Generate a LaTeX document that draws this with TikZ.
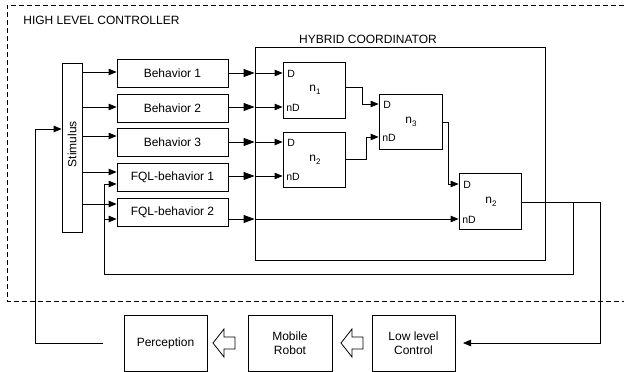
\documentclass[tikz,border=0pt]{standalone}
\usepackage{fontspec}
\setmainfont{Liberation Sans}
\usetikzlibrary{arrows.meta}
\newcommand{\lowsub}[1]{\raisebox{-3.5pt}{\fontsize{8}{9}\selectfont #1}}
\begin{document}
\begin{tikzpicture}[x=1pt,y=-1pt,
  every path/.style={line width=0.8pt},
  box/.style={draw, rectangle, inner sep=0pt, font=\fontsize{12}{14}\selectfont, align=center},
  sarrow/.style={-{Triangle[length=8pt,width=6.5pt]}},
  barrow/.style={-{Triangle[length=11pt,width=8pt]}},
  lbl/.style={font=\fontsize{10.5}{12}\selectfont, inner sep=0pt, anchor=west},
  nlbl/.style={font=\fontsize{12}{14}\selectfont, inner sep=0pt},
  ttl/.style={font=\fontsize{12}{14}\selectfont, inner sep=0pt},
  hollow/.style={draw, line width=0.8pt, fill=white}
]
\useasboundingbox (0,0) rectangle (624,372);

% dashed frame (open on the right)
\draw[dash pattern=on 5pt off 3pt] (624,5) -- (7,5) -- (7,301) -- (624,301);
\node[ttl, anchor=west] (hlc) at (23,20) {HIGH LEVEL CONTROLLER};

% hybrid coordinator
\node[box, minimum width=290pt, minimum height=213pt] (hyb) at (400,153.5) {};
\node[ttl] (hct) at (368,39) {HYBRID COORDINATOR};

% stimulus
\node[box, minimum width=20pt, minimum height=169pt] (stim) at (72,147.5) {};
\node[ttl, rotate=90] (stimt) at (72,144) {Stimulus};

% behaviours
\node[box, minimum width=111pt, minimum height=28pt] (b1) at (172.5,73) {Behavior 1};
\node[box, minimum width=111pt, minimum height=28pt] (b2) at (172.5,108) {Behavior 2};
\node[box, minimum width=111pt, minimum height=28pt] (b3) at (172.5,142) {Behavior 3};
\node[box, minimum width=111pt, minimum height=28pt] (f1) at (172.5,177) {FQL-behavior 1};
\node[box, minimum width=111pt, minimum height=28pt] (f2) at (172.5,212) {FQL-behavior 2};

% coordinator nodes
\node[box, minimum width=62pt, minimum height=56pt] (n1) at (314,90) {};
\node[box, minimum width=62pt, minimum height=55pt] (n2) at (314,159.5) {};
\node[box, minimum width=63pt, minimum height=55pt] (n3) at (410.5,121.5) {};
\node[box, minimum width=62pt, minimum height=56pt] (n4) at (490,201) {};
\node[nlbl] (n1t) at (315,90) {n\lowsub{1}};
\node[nlbl] (n2t) at (315,160) {n\lowsub{2}};
\node[nlbl] (n3t) at (411,122) {n\lowsub{3}};
\node[nlbl] (n4t) at (491,202) {n\lowsub{2}};
\node[lbl] (n1d) at (287,74) {D};
\node[lbl] (n1nd) at (286,108) {nD};
\node[lbl] (n2d) at (287,143) {D};
\node[lbl] (n2nd) at (286,177) {nD};
\node[lbl] (n3d) at (383,105) {D};
\node[lbl] (n3nd) at (382,138) {nD};
\node[lbl] (n4d) at (463,185) {D};
\node[lbl] (n4nd) at (462,220) {nD};

% bottom boxes
\node[box, minimum width=83pt, minimum height=56pt] (per) at (165.5,343) {Perception};
\node[box, minimum width=84pt, minimum height=56pt] (mob) at (290,343) {Mobile\\Robot};
\node[box, minimum width=83pt, minimum height=56pt] (low) at (413.5,343) {Low level\\Control};

% hollow arrows
\draw[hollow] (213,343) -- (224,329) -- (224,337) -- (235,337) -- (235,349) -- (224,349) -- (224,357) -- cycle;
\draw[hollow] (341,343) -- (352,329) -- (352,337) -- (363,337) -- (363,349) -- (352,349) -- (352,357) -- cycle;

% stimulus -> behaviours
\draw[sarrow] (stim.east |- 0,72) -- (b1.west |- 0,72);
\draw[sarrow] (stim.east |- 0,107) -- (b2.west |- 0,107);
\draw[sarrow] (stim.east |- 0,136) -- (b3.west |- 0,136);
\draw[sarrow] (stim.east |- 0,172) -- (f1.west |- 0,172);
\draw[sarrow] (stim.east |- 0,204) -- (f2.west |- 0,204);

% behaviours -> coordinator
\draw[barrow] (b1.east |- 0,73) -- (hyb.west |- 0,73);
\draw[sarrow] (hyb.west |- 0,73) -- (n1.west |- 0,73);
\draw[barrow] (b2.east |- 0,107) -- (hyb.west |- 0,107);
\draw[sarrow] (hyb.west |- 0,107) -- (n1.west |- 0,107);
\draw[barrow] (b3.east |- 0,142) -- (hyb.west |- 0,142);
\draw[sarrow] (hyb.west |- 0,142) -- (n2.west |- 0,142);
\draw[barrow] (f1.east |- 0,176) -- (hyb.west |- 0,176);
\draw[sarrow] (hyb.west |- 0,176) -- (n2.west |- 0,176);
\draw[barrow] (f2.east |- 0,219) -- (hyb.west |- 0,219);
\draw[sarrow] (hyb.west |- 0,219) -- (n4.west |- 0,219);

% internal connections
\draw[sarrow] (n1.east |- 0,87) -- (362,87) -- (362,104) -- (n3.west |- 0,104);
\draw[sarrow] (n2.east |- 0,159) -- (366,159) -- (366,137) -- (n3.west |- 0,137);
\draw[sarrow] (n3.east |- 0,122) -- (448,122) -- (448,184) -- (n4.west |- 0,184);

% output and feedback
\coordinate (lowin) at (463,343);
\draw[sarrow] (n4.east |- 0,202) -| (600,343) -- (lowin);
\draw (573,202) -- (573,274) -| (104,184);
\draw[sarrow] (104,184) -- (f1.west |- 0,184);
\draw[sarrow] (104,219) -- (f2.west |- 0,219);

\coordinate (pfb) at (103,343);
\draw[sarrow] (pfb) -| (35,129) -- (stim.west |- 0,129);
\end{tikzpicture}
\end{document}
